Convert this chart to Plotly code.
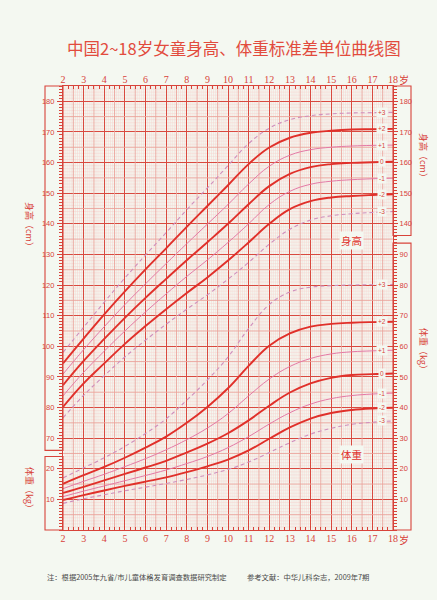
import plotly.graph_objects as go

# ---------------- data ----------------
ages = [2, 3, 4, 5, 6, 7, 8, 9, 10, 11, 12, 13, 14, 15, 16, 17, 18]
sd_labels = ["-3", "-2", "-1", "0", "+1", "+2", "+3"]

height_m3 = [76.6, 84.0, 90.4, 96.5, 102.0, 107.2, 112.1, 116.8, 121.9, 127.4, 133.3, 138.2, 141.2, 142.6, 143.3, 143.7, 144.0]
height_m2 = [80.2, 87.9, 94.4, 100.8, 106.6, 112.1, 117.4, 122.5, 128.0, 133.9, 140.0, 144.8, 147.4, 148.6, 149.1, 149.4, 149.6]
height_m1 = [83.8, 91.5, 98.4, 105.0, 111.2, 117.1, 122.8, 128.2, 133.9, 140.0, 146.3, 150.6, 152.9, 153.9, 154.4, 154.7, 154.9]
height_0 = [87.3, 95.2, 102.4, 109.3, 115.8, 122.0, 128.1, 134.0, 140.0, 146.4, 152.3, 156.3, 158.5, 159.5, 159.9, 160.1, 160.3]
height_p1 = [90.9, 98.9, 106.4, 113.6, 120.4, 127.0, 133.5, 139.9, 146.3, 153.0, 158.8, 162.4, 164.2, 165.0, 165.4, 165.6, 165.7]
height_p2 = [94.4, 102.5, 110.4, 117.9, 125.1, 132.0, 139.0, 145.8, 152.6, 159.5, 164.9, 168.1, 169.7, 170.4, 170.8, 170.9, 171.0]
height_p3 = [98.0, 106.2, 114.4, 122.3, 129.8, 137.1, 144.6, 151.7, 159.0, 166.2, 171.2, 174.0, 175.3, 175.9, 176.2, 176.3, 176.4]

weight_m3 = [8.7, 10.2, 11.5, 12.8, 14.0, 15.2, 16.5, 18.0, 19.8, 22.2, 25.3, 28.5, 31.3, 33.2, 34.5, 35.2, 35.6]
weight_m2 = [9.8, 11.4, 12.9, 14.4, 15.8, 17.2, 18.9, 20.8, 23.0, 26.0, 29.8, 33.5, 36.4, 38.2, 39.2, 39.7, 39.9]
weight_m1 = [10.9, 12.7, 14.4, 16.1, 17.8, 19.6, 21.7, 24.0, 26.9, 30.5, 34.6, 38.3, 41.1, 42.9, 43.9, 44.4, 44.7]
weight_0 = [12.1, 14.1, 16.2, 18.3, 20.4, 22.6, 25.3, 28.2, 31.6, 35.8, 40.6, 44.9, 47.9, 49.7, 50.6, 50.9, 51.1]
weight_p1 = [13.5, 15.9, 18.2, 20.7, 23.3, 26.2, 29.5, 33.3, 38.0, 43.8, 49.3, 53.4, 56.0, 57.5, 58.2, 58.5, 58.7]
weight_p2 = [15.1, 17.9, 20.6, 23.6, 26.9, 30.5, 35.0, 40.2, 46.3, 53.6, 60.2, 64.2, 66.4, 67.3, 67.7, 67.9, 68.0]
weight_p3 = [17.0, 20.3, 23.6, 27.3, 31.5, 36.3, 42.4, 49.0, 56.5, 65.8, 73.6, 77.7, 79.3, 79.8, 80.0, 80.1, 80.2]

age_ticks = [2, 3, 4, 5, 6, 7, 8, 9, 10, 11, 12, 13, 14, 15, 16, 17, 18]
left_height_ticks = [70, 80, 90, 100, 110, 120, 130, 140, 150, 160, 170, 180]
left_weight_ticks = [10, 20]
right_height_ticks = [140, 150, 160, 170, 180]
right_weight_ticks = [10, 20, 30, 40, 50, 60, 70, 80, 90]

title_text = "中国2~18岁女童身高、体重标准差单位曲线图"
note_left = "注：根据2005年九省/市儿童体格发育调查数据研究制定"
note_right = "参考文献：中华儿科杂志，2009年7期"

# ---------------- geometry / style ----------------
W, H = 437, 600
ML, MR, MT, MB = 63, 44, 86, 70
PW = W - ML - MR
PH = H - MT - MB
W_RANGE = [0, 145]
H_OFFSET = 40
H_RANGE = [W_RANGE[0] + H_OFFSET, W_RANGE[1] + H_OFFSET]


def px(x):
    return (x - ML) / PW


def py(y):
    return (H - MB - y) / PH


BG = "#f4f8f1"
RED = "#d8433a"
MAJ = "#d9493f"
MED = "#eba29a"
FINE = "#f7d2ce"
THICK = "#e0302a"
PINK = "#e47aa6"
DASHC = "#cf8fbd"

styles = {
    "-3": dict(color=DASHC, width=1.1, dash="4px,3px"),
    "+3": dict(color=DASHC, width=1.1, dash="4px,3px"),
    "-1": dict(color=PINK, width=1.0),
    "+1": dict(color=PINK, width=1.0),
    "-2": dict(color=THICK, width=1.9),
    "0": dict(color=THICK, width=1.9),
    "+2": dict(color=THICK, width=1.9),
}

height_curves = dict(zip(sd_labels, [height_m3, height_m2, height_m1, height_0, height_p1, height_p2, height_p3]))
weight_curves = dict(zip(sd_labels, [weight_m3, weight_m2, weight_m1, weight_0, weight_p1, weight_p2, weight_p3]))
draw_order = ["-3", "+3", "-1", "+1", "-2", "0", "+2"]

fig = go.Figure()
for lab in draw_order:
    fig.add_trace(go.Scatter(x=ages, y=weight_curves[lab], mode="lines", xaxis="x", yaxis="y",
                             line=dict(shape="spline", smoothing=1.2, **styles[lab]),
                             hoverinfo="skip", showlegend=False))
for lab in draw_order:
    fig.add_trace(go.Scatter(x=ages, y=height_curves[lab], mode="lines", xaxis="x2", yaxis="y2",
                             line=dict(shape="spline", smoothing=1.2, **styles[lab]),
                             hoverinfo="skip", showlegend=False))

shapes = []
# fine + medium grid
for k in range(age_ticks[0] * 10, age_ticks[-1] * 10 + 1):
    if k % 10 == 0:
        continue
    x = k / 10
    if k % 5 == 0:
        shapes.append(dict(type="line", xref="x", yref="y", x0=x, x1=x, y0=W_RANGE[0], y1=W_RANGE[1],
                           line=dict(color=MED, width=0.9), layer="between"))
    else:
        shapes.append(dict(type="line", xref="x", yref="y", x0=x, x1=x, y0=W_RANGE[0], y1=W_RANGE[1],
                           line=dict(color=FINE, width=0.5), layer="below"))
for v in range(W_RANGE[0] + 1, W_RANGE[1]):
    if v % 10 == 0:
        continue
    if v % 5 == 0:
        shapes.append(dict(type="line", xref="x", yref="y", x0=age_ticks[0], x1=age_ticks[-1], y0=v, y1=v,
                           line=dict(color=MED, width=0.9), layer="between"))
    else:
        shapes.append(dict(type="line", xref="x", yref="y", x0=age_ticks[0], x1=age_ticks[-1], y0=v, y1=v,
                           line=dict(color=FINE, width=0.5), layer="below"))

# side ruler boxes
span = W_RANGE[1] - W_RANGE[0]
for (x0, x1, y0, y1) in [
    (px(45), 0, 26 / span, 1),
    (px(45), 0, 0, 24 / span),
    (1, px(411), 96.2 / span, 1),
    (1, px(411), 0, 93.7 / span),
]:
    shapes.append(dict(type="rect", xref="paper", yref="paper", x0=x0, x1=x1, y0=y0, y1=y1,
                       line=dict(color=RED, width=1.1), fillcolor="rgba(0,0,0,0)", layer="above"))

annotations = []
C = dict(xanchor="center", yanchor="middle", showarrow=False)
# SD labels at right end of curves
for lab in sd_labels:
    annotations.append(dict(x=17.45, y=height_curves[lab][-1], xref="x2", yref="y2", text=lab,
                            font=dict(size=6.5, color=RED, family="Liberation Sans"),
                            bgcolor=BG, borderpad=1, **C))
    annotations.append(dict(x=17.45, y=weight_curves[lab][-1], xref="x", yref="y", text=lab,
                            font=dict(size=6.5, color=RED, family="Liberation Sans"),
                            bgcolor=BG, borderpad=1, **C))

annotations.append(dict(x=16.0, y=134.5, xref="x2", yref="y2", text="身高",
                        font=dict(size=10.5, color=THICK, family="Noto Sans CJK SC"), bgcolor=BG, borderpad=1, **C))
annotations.append(dict(x=16.0, y=24.7, xref="x", yref="y", text="体重",
                        font=dict(size=10.5, color=THICK, family="Noto Sans CJK SC"), bgcolor=BG, borderpad=1, **C))

# axis titles (vertical)
for (tx, ty, txt) in [(30, 226, "身高（cm）"), (30, 490, "体重（kg）"),
                      (424, 157, "身高（cm）"), (424, 351, "体重（kg）")]:
    annotations.append(dict(x=px(tx), y=py(ty), xref="paper", yref="paper", text=txt, textangle=90,
                            font=dict(size=9, color=RED, family="Noto Sans CJK SC"), **C))

# "岁" unit labels
for (tx, ty) in [(404, 79), (404, 539)]:
    annotations.append(dict(x=px(tx), y=py(ty), xref="paper", yref="paper", text="岁",
                            font=dict(size=10, color=RED, family="Noto Sans CJK SC"), **C))

# title
annotations.append(dict(x=px(234), y=py(48), xref="paper", yref="paper", text=title_text,
                        font=dict(size=16.5, color="#e24b3d", family="Noto Sans CJK SC"), **C))
# footnotes
annotations.append(dict(x=px(45), y=py(577), xref="paper", yref="paper", text=note_left, showarrow=False,
                        xanchor="left", yanchor="middle",
                        font=dict(size=7.3, color="#4a4a4a", family="Noto Sans CJK SC")))
annotations.append(dict(x=px(245), y=py(577), xref="paper", yref="paper", text=note_right, showarrow=False,
                        xanchor="left", yanchor="middle",
                        font=dict(size=7.3, color="#4a4a4a", family="Noto Sans CJK SC")))

xfont = dict(family="Liberation Serif", size=10, color=RED)
yfont = dict(family="Liberation Sans", size=7.5, color=RED)
xminor = dict(dtick=0.25, tick0=2, ticks="inside", ticklen=3, tickcolor=RED, tickwidth=0.8, showgrid=False)
yminor = dict(dtick=1, tick0=0, ticks="outside", ticklen=2.5, tickcolor=RED, tickwidth=0.6, showgrid=False)

fig.update_layout(
    width=W, height=H,
    margin=dict(l=ML, r=MR, t=MT, b=MB, pad=0),
    paper_bgcolor=BG, plot_bgcolor=BG,
    showlegend=False,
    xaxis=dict(range=[age_ticks[0], age_ticks[-1]], tickmode="array", tickvals=age_ticks,
               ticktext=[str(a) for a in age_ticks], showgrid=True, gridcolor=MAJ, gridwidth=1.1,
               ticks="inside", ticklen=4, tickcolor=RED, minor=xminor, showline=True, linecolor=RED,
               linewidth=1.2, mirror=True, zeroline=False, tickfont=xfont, fixedrange=True,
               ticklabelstandoff=-1),
    xaxis2=dict(range=[age_ticks[0], age_ticks[-1]], overlaying="x", matches="x", side="top", anchor="y2",
                tickmode="array", tickvals=age_ticks, ticktext=[str(a) for a in age_ticks],
                showgrid=False, ticks="inside", ticklen=4, tickcolor=RED, minor=xminor,
                zeroline=False, tickfont=xfont, fixedrange=True),
    yaxis=dict(range=W_RANGE, tickmode="array",
               tickvals=left_weight_ticks + [h - H_OFFSET for h in left_height_ticks],
               ticktext=[str(v) for v in left_weight_ticks + left_height_ticks],
               showgrid=True, gridcolor=MAJ, gridwidth=1.1, ticks="outside", ticklen=5, tickcolor=RED,
               minor=yminor, showline=True, linecolor=RED, linewidth=1.2, mirror=True, zeroline=False,
               tickfont=yfont, fixedrange=True, ticklabelstandoff=1),
    yaxis2=dict(range=H_RANGE, overlaying="y", side="right", anchor="x2", tickmode="array",
                tickvals=[w + H_OFFSET for w in right_weight_ticks] + right_height_ticks,
                ticktext=[str(v) for v in right_weight_ticks + right_height_ticks],
                showgrid=False, ticks="outside", ticklen=4, tickcolor=RED, minor=yminor,
                zeroline=False, tickfont=yfont, fixedrange=True),
    shapes=shapes,
    annotations=annotations,
)

fig.write_html("out.html", config={"displayModeBar": False},
               post_script="document.body.style.margin='0';document.body.style.padding='0';")
